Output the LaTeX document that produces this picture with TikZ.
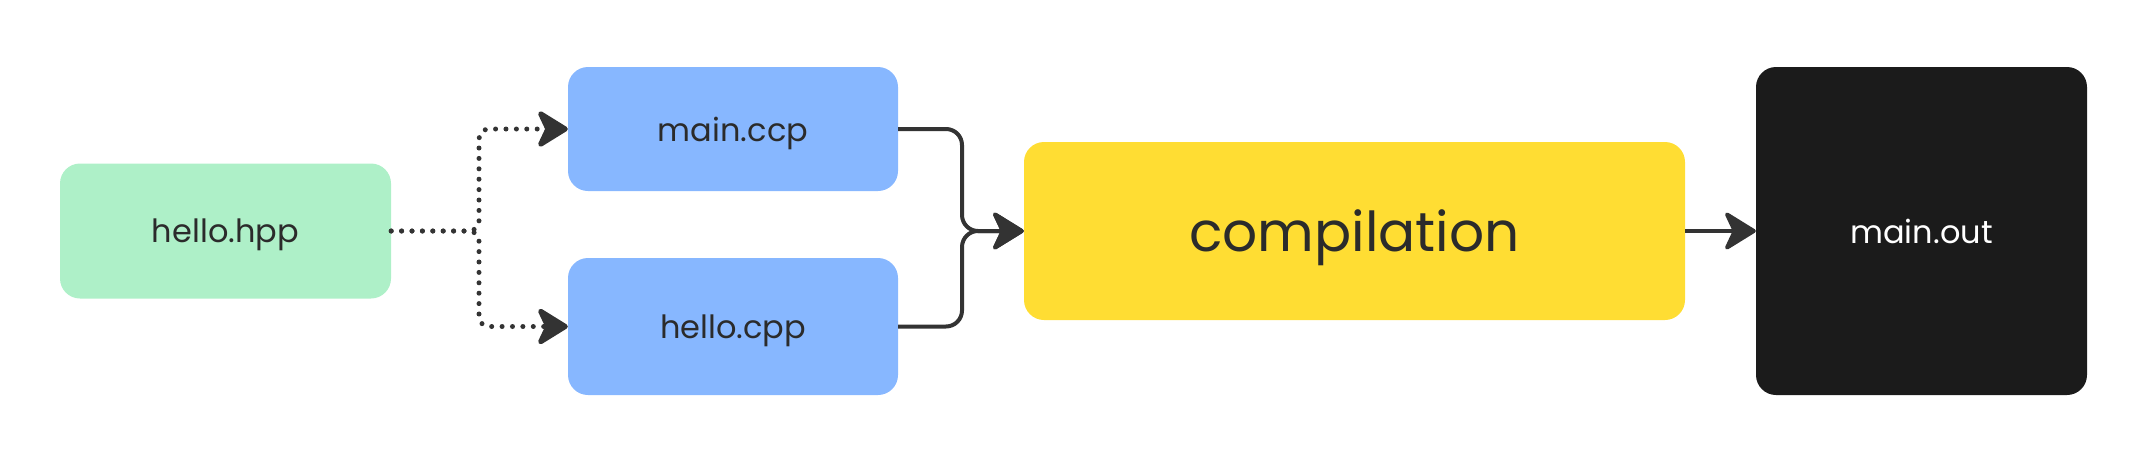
\documentclass[tikz,border=0pt]{standalone}
\usepackage{fontspec}
\setmainfont{Poppins}
\usetikzlibrary{arrows.meta}
\definecolor{hgreen}{HTML}{AEF0C8}
\definecolor{hblue}{HTML}{87B7FF}
\definecolor{hyellow}{HTML}{FFDD33}
\definecolor{hblack}{HTML}{1B1B1B}
\definecolor{htext}{HTML}{2B2B2B}
\definecolor{hline}{HTML}{333333}
\tikzset{
  box/.style={rectangle, rounded corners=20pt, inner sep=0pt, text depth=0pt, text=htext, font=\fontsize{32}{38}\selectfont},
  tip/.style={-{Stealth[length=35pt, width=43pt, inset=10pt, round]}},
  solidline/.style={draw=hline, line width=4pt, tip},
  dotline/.style={draw=hline, line width=5pt, line cap=round, dash pattern=on 0pt off 10.4pt, tip},
}
\begin{document}
\begin{tikzpicture}[x=1pt, y=-1pt]
\useasboundingbox (0,0) rectangle (2137,467);
\node[box, fill=hgreen, minimum width=331pt, minimum height=135pt] (hpp) at (225.5,231) {hello.hpp};
\node[box, fill=hblue, minimum width=330pt, minimum height=124pt] (ccp) at (733,129) {main.ccp};
\node[box, fill=hblue, minimum width=330pt, minimum height=137pt] (cpp) at (733,326.5) {hello.cpp};
\node[box, fill=hyellow, minimum width=661pt, minimum height=178pt, font=\fontsize{55}{64}\selectfont] (comp) at (1354.5,231) {compilation};
\node[box, fill=hblack, text=white, minimum width=331pt, minimum height=328pt] (out) at (1921.5,231) {main.out};
\coordinate (split) at (479,231);
\coordinate (join) at (962,231);
\draw[dotline] [rounded corners=10pt] (hpp.east) -- (split) |- (ccp.west) [sharp corners];
\draw[dotline] [rounded corners=10pt] (hpp.east) -- (split) |- (cpp.west) [sharp corners];
\draw[solidline] [rounded corners=16pt] (ccp.east) -| (join) -- (comp.west) [sharp corners];
\draw[solidline] [rounded corners=16pt] (cpp.east) -| (join) -- (comp.west) [sharp corners];
\draw[solidline] (comp.east) -- (out.west);
\end{tikzpicture}
\end{document}
